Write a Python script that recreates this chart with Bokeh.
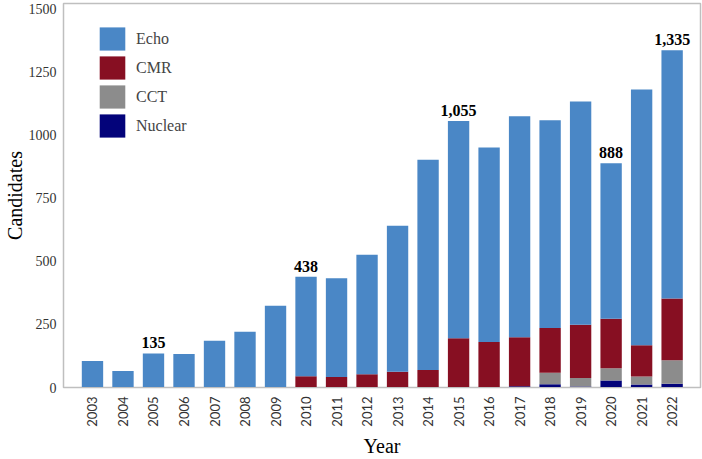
import math

from bokeh.core.properties import value
from bokeh.embed import file_html
from bokeh.models import ColumnDataSource, FixedTicker, Legend, LegendItem, Range1d
from bokeh.plotting import figure
from bokeh.resources import INLINE

years = [2003, 2004, 2005, 2006, 2007, 2008, 2009, 2010, 2011, 2012,
         2013, 2014, 2015, 2016, 2017, 2018, 2019, 2020, 2021, 2022]
nuclear = [0, 0, 0, 0, 0, 0, 0, 0, 0, 0, 0, 0, 0, 0, 5, 13, 4, 28, 12, 15]
cct = [0, 0, 0, 0, 0, 0, 0, 0, 0, 0, 0, 0, 0, 0, 0, 45, 34, 48, 32, 93]
cmr = [0, 0, 0, 0, 0, 0, 0, 45, 42, 52, 62, 69, 195, 180, 194, 178, 210, 196, 123, 244]
echo = [105, 65, 135, 133, 185, 221, 324, 393, 390, 473,
        578, 833, 860, 770, 875, 822, 884, 616, 1013, 983]

label_years = [2005, 2010, 2015, 2020, 2022]

serif = "Liberation Serif"
sans = "Lato"
grey = "#bfbfbf"

source = ColumnDataSource(data=dict(year=years, Nuclear=nuclear, CCT=cct, CMR=cmr, Echo=echo))

totals = [n + c + m + e for n, c, m, e in zip(nuclear, cct, cmr, echo)]
lab_y = [totals[years.index(y)] for y in label_years]
lab_txt = ["{:,}".format(v) for v in lab_y]
lab_src = ColumnDataSource(data=dict(x=label_years, y=lab_y, t=lab_txt))

p = figure(width=702, height=459, output_backend="svg", toolbar_location=None,
           x_range=Range1d(2002.05, 2022.93), y_range=Range1d(0, 1520),
           min_border_left=63, min_border_right=2, min_border_top=3, min_border_bottom=72)

stackers = ["Nuclear", "CCT", "CMR", "Echo"]
colors = ["#03037a", "#8c8c8c", "#870f22", "#4a87c6"]
rs = p.vbar_stack(stackers, x="year", width=0.7, color=colors, line_color=None, source=source)

p.text(x="x", y="y", text="t", source=lab_src, text_align="center", text_baseline="bottom",
       y_offset=-5, text_font=value(serif), text_font_style="bold", text_font_size="16px",
       text_color="black")

items = [LegendItem(label=name, renderers=[r]) for name, r in zip(stackers, rs)]
legend = Legend(items=items[::-1], location=(33, 247), glyph_width=32, glyph_height=29,
                spacing=0, padding=0, margin=0,
                label_text_font=serif, label_text_font_size="16px", label_standoff=8,
                border_line_color=None, background_fill_alpha=0)
p.add_layout(legend)

p.xaxis.ticker = FixedTicker(ticks=years)
p.xaxis.major_label_orientation = math.pi / 2
p.xaxis.major_label_text_font = sans
p.xaxis.major_label_text_font_size = "13px"
p.xaxis.major_label_text_color = "#333333"
p.xaxis.major_label_standoff = 9
p.xaxis.axis_label = "Year"
p.xaxis.axis_label_standoff = 5

p.yaxis.ticker = FixedTicker(ticks=[0, 250, 500, 750, 1000, 1250, 1500])
p.yaxis.major_label_text_font = serif
p.yaxis.major_label_text_font_size = "14px"
p.yaxis.major_label_text_color = "#333333"
p.yaxis.major_label_standoff = 7
p.yaxis.axis_label = "Candidates"
p.yaxis.axis_label_standoff = 0

for ax in (p.xaxis, p.yaxis):
    ax.axis_label_text_font = serif
    ax.axis_label_text_font_size = "20px"
    ax.axis_label_text_font_style = "normal"
    ax.axis_label_text_color = "black"
    ax.axis_line_color = grey
    ax.major_tick_line_color = None
    ax.minor_tick_line_color = None
    ax.major_tick_out = 0
    ax.major_tick_in = 0
    ax.minor_tick_out = 0
    ax.minor_tick_in = 0

p.xgrid.grid_line_color = None
p.ygrid.grid_line_color = None
p.outline_line_color = grey
p.outline_line_width = 1.5

open("out.html", "w").write(file_html(p, INLINE))
